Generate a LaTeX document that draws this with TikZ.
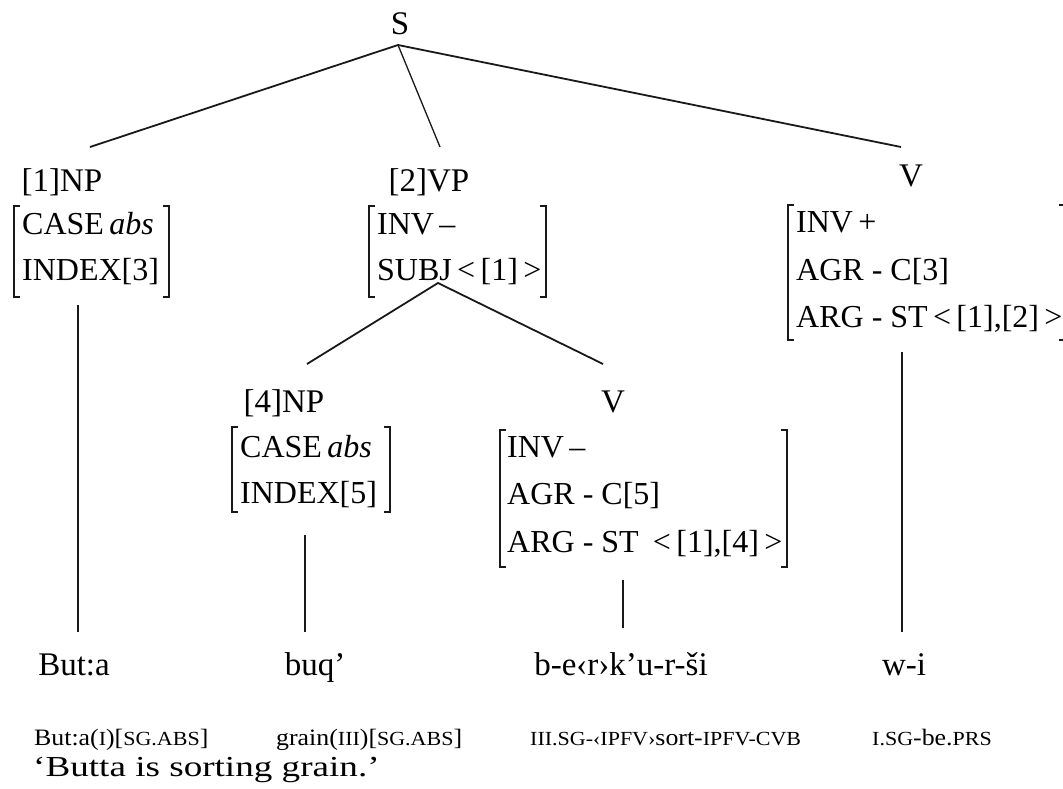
\documentclass[tikz,border=0pt]{standalone}
\usepackage{fontspec}
\setmainfont{Liberation Serif}
\newfontfamily\glossfont[FakeStretch=1.1]{Liberation Serif}
\newfontfamily\transfont[FakeStretch=1.28]{Liberation Serif}
\newcommand{\gsc}[1]{{\fontsize{20}{22}\selectfont #1}}
\newcommand{\avmbox}[4]{%
  \draw[brk] (#1+6,#3) -| (#1,#4) -- (#1+6,#4);
  \draw[brk] (#2-6,#3) -| (#2,#4) -- (#2-6,#4);}
\begin{document}
\begin{tikzpicture}[x=1pt,y=-1pt,
  lab/.style={inner sep=0pt, font=\fontsize{33}{36}\selectfont, anchor=base},
  row/.style={inner sep=0pt, font=\fontsize{32}{36}\selectfont, anchor=base west},
  word/.style={inner sep=0pt, font=\fontsize{33}{36}\selectfont, anchor=base},
  gl/.style={inner sep=0pt, font=\glossfont\fontsize{23.5}{26}\selectfont, anchor=base west},
  edge/.style={line width=1.8pt, black!90},
  brk/.style={line width=1.5pt, black!90}]
\useasboundingbox (0,0) rectangle (1063,789);
\clip (0,0) rectangle (1063,789);

% labels
\node[lab] (S) at (400,35) {S};
\node[lab] (np1) at (62,191) {[1]NP};
\node[lab] (vp2) at (429,191) {[2]VP};
\node[lab] (v1) at (911,186) {V};
\node[lab] (np4) at (284,412) {[4]NP};
\node[lab] (v2) at (613,412) {V};

% attachment points
\coordinate (Sa) at (398,45);
\coordinate (np1t) at (90,147);
\coordinate (vp2t) at (440,147);
\coordinate (v1t) at (901,147);
\coordinate (vpa) at (438,283);
\coordinate (np4t) at (307,364);
\coordinate (v2t) at (603,364);
\draw[edge] (np1t) -- (Sa) -- (v1t);
\draw[edge, line width=1.3pt] (Sa) -- (vp2t);
\draw[edge] (np4t) -- (vpa) -- (v2t);

% AVM 1: [1]NP
\avmbox{14}{169}{206}{297}
\node[row] (np1a) at (22,234) {CASE\,\textit{abs}};
\node[row] (np1b) at (22,280) {INDEX[3]};
% AVM 2: [2]VP
\avmbox{369}{546}{206}{297}
\node[row] (vp2a) at (377,234) {INV\,–};
\node[row] (vp2b) at (377,280) {SUBJ\,<\,[1]\,>};
% AVM 3: V (top right)
\avmbox{788}{1065}{205}{340}
\node[row] (v1a) at (796,232) {INV\,+};
\node[row] (v1b) at (796,280) {AGR - C[3]};
\node[row] (v1c) at (796,327) {ARG - ST\,<\,[1],[2]\,>};
% AVM 4: [4]NP
\avmbox{232}{390}{427}{512}
\node[row] (np4a) at (240,457) {CASE\,\textit{abs}};
\node[row] (np4b) at (240,503) {INDEX[5]};
% AVM 5: V
\avmbox{500}{787}{430}{567}
\node[row] (v2a) at (507,457) {INV\,–};
\node[row] (v2b) at (507,504) {AGR - C[5]};
\node[row] (v2c) at (507,552) {ARG - ST\;\,<\,[1],[4]\,>};

% words
\node[word] (w1) at (74,675) {But:a};
\node[word] (w2) at (315,675) {buq’};
\node[word] (w3) at (621,675) {b-e‹r›k’u-r-ši};
\node[word] (w4) at (904,675) {w-i};

% vertical connectors
\coordinate (np1b0) at (78,305);
\coordinate (np4b0) at (305,535);
\coordinate (v2b0) at (623,580);
\coordinate (v1b0) at (902,352);
\coordinate (w1t) at (78,632);
\coordinate (w2t) at (305,632);
\coordinate (w3t) at (623,628);
\coordinate (w4t) at (902,632);
\draw[edge, line width=1.4pt] (np1b0) -- (w1t);
\draw[edge, line width=1.4pt] (np4b0) -- (w2t);
\draw[edge, line width=1.4pt] (v2b0) -- (w3t);
\draw[edge, line width=1.4pt] (v1b0) -- (w4t);

% glosses
\node[gl] (g1) at (34,745) {But:a(\gsc{I})[\gsc{SG.ABS}]};
\node[gl] (g2) at (276,745) {grain(\gsc{III})[\gsc{SG.ABS}]};
\node[gl] (g3) at (530,745) {\gsc{III.SG-‹IPFV›}sort-\gsc{IPFV-CVB}};
\node[gl] (g4) at (872,745) {\gsc{I.SG}-be.\gsc{PRS}};
\node[gl, font=\transfont\fontsize{29}{32}\selectfont] (tr) at (33,776) {‘Butta is sorting grain.’};
\end{tikzpicture}
\end{document}
